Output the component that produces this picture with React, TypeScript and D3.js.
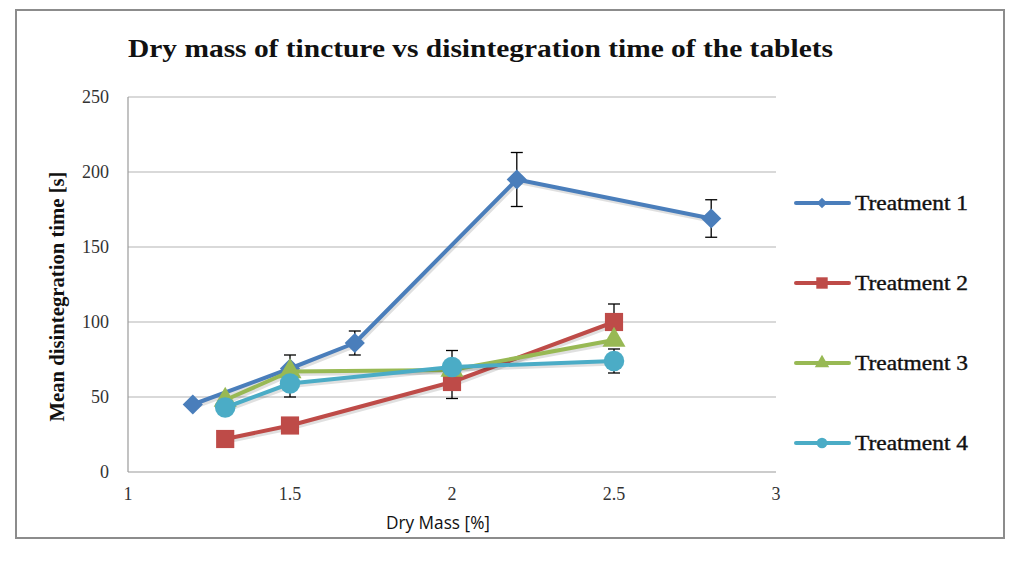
import React, { useEffect, useRef } from 'react';
import * as d3 from 'd3';

// Dry mass [%] for each series
const t1X = [1.2, 1.5, 1.7, 2.2, 2.8];
const t1Y = [45, 69, 86, 195, 169];
const t1Err = [0, 9, 8, 18, 12.5];

const t2X = [1.3, 1.5, 2.0, 2.5];
const t2Y = [22, 31, 60, 100];
const t2Err = [0, 0, 11, 12];

const t3X = [1.3, 1.5, 2.0, 2.5];
const t3Y = [48, 67, 68, 88];
const t3Err = [0, 0, 0, 0];

const t4X = [1.3, 1.5, 2.0, 2.5];
const t4Y = [43, 59, 70, 74];
const t4Err = [0, 9, 11, 8];

const seriesNames = ['Treatment 1', 'Treatment 2', 'Treatment 3', 'Treatment 4'];
const seriesColors = ['#4a7ebb', '#be4b48', '#98b954', '#4bacc6'];
const seriesShapes = ['diamond', 'square', 'triangle', 'circle'];

const xTicks = [1, 1.5, 2, 2.5, 3];
const xTickLabels = ['1', '1.5', '2', '2.5', '3'];
const yTicks = [0, 50, 100, 150, 200, 250];

const App: React.FC = () => {
  const svgRef = useRef<SVGSVGElement | null>(null);

  useEffect(() => {
    if (!svgRef.current) return;
    const svg = d3.select(svgRef.current);
    svg.selectAll('*').remove();

    const width = 1024;
    const height = 561;
    const plot = { left: 128, right: 776, top: 97, bottom: 472 };

    svg.append('rect')
      .attr('width', width).attr('height', height).attr('fill', '#fff');

    // outer chart frame
    svg.append('rect')
      .attr('x', 16).attr('y', 10)
      .attr('width', 988).attr('height', 528)
      .attr('fill', 'none')
      .attr('stroke', '#8c8c8c')
      .attr('stroke-width', 2);

    const x = d3.scaleLinear().domain([1, 3]).range([plot.left, plot.right]);
    const y = d3.scaleLinear().domain([0, 250]).range([plot.bottom, plot.top]);

    // gridlines
    svg.append('g')
      .selectAll('line')
      .data(yTicks.filter(d => d > 0))
      .enter()
      .append('line')
      .attr('x1', plot.left).attr('x2', plot.right)
      .attr('y1', d => y(d)).attr('y2', d => y(d))
      .attr('stroke', '#b3b3b3').attr('stroke-width', 1.2);

    // axes lines
    svg.append('line')
      .attr('x1', plot.left).attr('x2', plot.left)
      .attr('y1', plot.top).attr('y2', plot.bottom)
      .attr('stroke', '#9a9a9a').attr('stroke-width', 1.2);
    svg.append('line')
      .attr('x1', plot.left).attr('x2', plot.right)
      .attr('y1', plot.bottom).attr('y2', plot.bottom)
      .attr('stroke', '#9a9a9a').attr('stroke-width', 1.2);

    // tick labels
    svg.append('g')
      .selectAll('text')
      .data(yTicks)
      .enter()
      .append('text')
      .attr('x', plot.left - 19)
      .attr('y', d => y(d) + 6)
      .attr('text-anchor', 'end')
      .attr('font-family', 'Liberation Serif')
      .attr('font-size', 18)
      .attr('fill', '#333')
      .text(d => d);

    svg.append('g')
      .selectAll('text')
      .data(xTicks)
      .enter()
      .append('text')
      .attr('x', d => x(d))
      .attr('y', plot.bottom + 28)
      .attr('text-anchor', 'middle')
      .attr('font-family', 'Liberation Serif')
      .attr('font-size', 18)
      .attr('fill', '#333')
      .text((d, i) => xTickLabels[i]);

    // title and axis titles
    svg.append('text')
      .attr('x', 128).attr('y', 57)
      .attr('font-family', 'Liberation Serif')
      .attr('font-weight', 'bold')
      .attr('font-size', 25)
      .attr('textLength', 705)
      .attr('lengthAdjust', 'spacingAndGlyphs')
      .attr('fill', '#111')
      .text('Dry mass of tincture vs disintegration time of the tablets');

    svg.append('text')
      .attr('transform', `translate(64,${(plot.top + plot.bottom) / 2 + 12}) rotate(-90)`)
      .attr('text-anchor', 'middle')
      .attr('font-family', 'Liberation Serif')
      .attr('font-weight', 'bold')
      .attr('font-size', 20)
      .attr('textLength', 250)
      .attr('lengthAdjust', 'spacingAndGlyphs')
      .attr('fill', '#111')
      .text('Mean disintegration time [s]');

    svg.append('text')
      .attr('x', 438).attr('y', 529)
      .attr('text-anchor', 'middle')
      .attr('font-family', 'Open Sans')
      .attr('font-size', 18)
      .attr('textLength', 104)
      .attr('lengthAdjust', 'spacingAndGlyphs')
      .attr('fill', '#111')
      .text('Dry Mass [%]');

    const allSeries = [
      { xs: t1X, ys: t1Y, err: t1Err },
      { xs: t2X, ys: t2Y, err: t2Err },
      { xs: t3X, ys: t3Y, err: t3Err },
      { xs: t4X, ys: t4Y, err: t4Err },
    ];

    const shapeFor = (s: string, size: number) => {
      const map: Record<string, d3.SymbolType> = {
        diamond: d3.symbolDiamond2,
        square: d3.symbolSquare,
        triangle: d3.symbolTriangle,
        circle: d3.symbolCircle,
      };
      return d3.symbol().type(map[s]).size(size)();
    };
    const markerSize: Record<string, number> = {
      diamond: 260, square: 330, triangle: 230, circle: 330,
    };

    const line = d3.line<[number, number]>()
      .x(d => x(d[0]))
      .y(d => y(d[1]));

    // error bars first (behind the lines)
    allSeries.forEach(s => {
      const eb = svg.append('g').attr('stroke', '#000').attr('stroke-width', 1.3);
      s.xs.forEach((xv, i) => {
        const e = s.err[i];
        if (!e) return;
        const cx = x(xv);
        eb.append('line')
          .attr('x1', cx).attr('x2', cx)
          .attr('y1', y(s.ys[i] + e)).attr('y2', y(s.ys[i] - e));
        [s.ys[i] + e, s.ys[i] - e].forEach(v => {
          eb.append('line')
            .attr('x1', cx - 6).attr('x2', cx + 6)
            .attr('y1', y(v)).attr('y2', y(v));
        });
      });
    });

    allSeries.forEach((s, k) => {
      const pts = s.xs.map((xv, i) => [xv, s.ys[i]] as [number, number]);
      const g = svg.append('g');
      // soft shadow
      g.append('path')
        .attr('d', line(pts))
        .attr('fill', 'none')
        .attr('stroke', 'rgba(0,0,0,0.12)')
        .attr('stroke-width', 4)
        .attr('transform', 'translate(1.5,2.5)');
      g.append('path')
        .attr('d', line(pts))
        .attr('fill', 'none')
        .attr('stroke', seriesColors[k])
        .attr('stroke-width', 4)
        .attr('stroke-linejoin', 'round');
      g.selectAll('path.marker')
        .data(pts)
        .enter()
        .append('path')
        .attr('class', 'marker')
        .attr('d', shapeFor(seriesShapes[k], markerSize[seriesShapes[k]]))
        .attr('transform', d => `translate(${x(d[0])},${y(d[1])})`)
        .attr('fill', seriesColors[k]);
    });

    // legend
    const legend = svg.append('g');
    seriesNames.forEach((name, k) => {
      const ly = 203 + k * 80;
      legend.append('line')
        .attr('x1', 796).attr('x2', 849)
        .attr('y1', ly).attr('y2', ly)
        .attr('stroke', seriesColors[k])
        .attr('stroke-width', 4)
        .attr('stroke-linecap', 'round');
      const small: Record<string, number> = { diamond: 70, square: 130, triangle: 90, circle: 90 };
      legend.append('path')
        .attr('d', shapeFor(seriesShapes[k], small[seriesShapes[k]]))
        .attr('transform', `translate(822,${ly})`)
        .attr('fill', seriesColors[k]);
      legend.append('text')
        .attr('x', 855).attr('y', ly + 7)
        .attr('font-family', 'Liberation Serif')
        .attr('font-size', 21)
        .attr('textLength', 113)
        .attr('lengthAdjust', 'spacingAndGlyphs')
        .attr('stroke', '#111')
        .attr('stroke-width', 0.4)
        .attr('fill', '#111')
        .text(name);
    });
  }, []);

  return (
    <svg
      ref={svgRef}
      width={1024}
      height={561}
      style={{ position: 'absolute', left: 0, top: 0 }}
    />
  );
};

export default App;
